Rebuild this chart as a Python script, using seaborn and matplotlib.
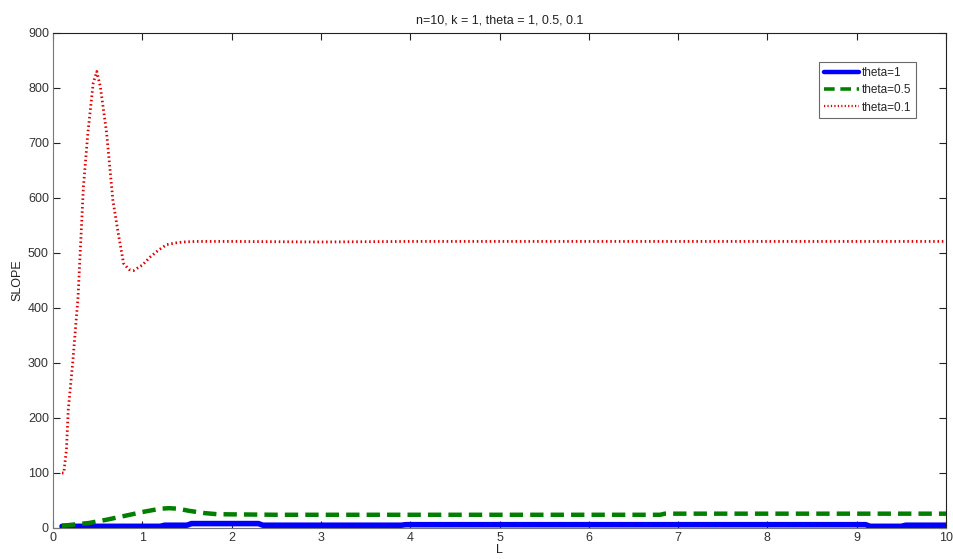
import matplotlib
matplotlib.use("Agg")
import matplotlib.pyplot as plt
import seaborn as sns
import pandas as pd

# --- data ---
x_red = [0.1, 0.12, 0.15, 0.17, 0.22, 0.28, 0.34, 0.39, 0.45, 0.49, 0.53, 0.6, 0.67,
         0.73, 0.79, 0.85, 0.9, 1.0, 1.09, 1.18, 1.27, 1.36, 1.46, 1.6, 2.0, 3.0, 4.0,
         5.0, 6.0, 7.0, 8.0, 9.0, 10.0]
y_red = [100, 100, 142, 214, 300, 420, 620, 718, 809, 830, 802, 718, 596,
         536, 481, 470, 468, 478, 493, 505, 515, 518, 520, 521, 521, 520, 521,
         521, 521, 521, 521, 521, 521]

x_green = [0.1, 0.4, 0.6, 0.86, 1.0, 1.2, 1.3, 1.4, 1.53, 1.7, 1.84, 2.5, 3.0, 4.0,
           5.0, 6.0, 6.8, 6.85, 8.0, 9.0, 10.0]
y_green = [4, 9, 15, 24, 29, 35, 36, 35, 31, 27, 25, 24, 24, 24,
           24, 24, 24, 26, 26, 26, 26]

x_blue = [0.1, 1.2, 1.25, 1.5, 1.55, 2.3, 2.35, 3.9, 3.95, 9.1, 9.15, 9.5, 9.55, 10.0]
y_blue = [3, 3, 5, 5, 8, 8, 5, 5, 6, 6, 3, 3, 5, 5]

labels = ["theta=1", "theta=0.5", "theta=0.1"]
title = "n=10, k = 1, theta = 1, 0.5, 0.1"
xticks = list(range(0, 11))
yticks = list(range(0, 901, 100))

sns.set_theme(style="white")
plt.rcParams["font.family"] = ["Liberation Sans", "DejaVu Sans"]

fig = plt.figure(figsize=(9.54, 5.59), dpi=100)
ax = fig.add_axes([0.0556, 0.0555, 0.9360, 0.8855])

df_b = pd.DataFrame({"x": x_blue, "y": y_blue})
df_g = pd.DataFrame({"x": x_green, "y": y_green})
df_r = pd.DataFrame({"x": x_red, "y": y_red})

sns.lineplot(data=df_b, x="x", y="y", ax=ax, color="#0000ff", lw=4, label=labels[0])
sns.lineplot(data=df_g, x="x", y="y", ax=ax, color="#007f00", lw=3.2, label=labels[1])
sns.lineplot(data=df_r, x="x", y="y", ax=ax, color="#e00000", lw=2, label=labels[2])
ax.lines[1].set_dashes([3, 1.6])
ax.lines[2].set_dashes([0.55, 1.0])

ax.set_xlim(0, 10)
ax.set_ylim(0, 900)
ax.set_xticks(xticks)
ax.set_yticks(yticks)
ax.tick_params(direction="in", length=5, width=0.8, colors="#222222", labelsize=9,
               top=True, right=True, bottom=True, left=True, pad=3)
for lab in ax.get_xticklabels() + ax.get_yticklabels():
    lab.set_color("#333333")
for s in ax.spines.values():
    s.set_color("#222222")
    s.set_linewidth(0.8)
    s.set_visible(True)
ax.spines["left"].set_color("#777777")
ax.spines["bottom"].set_color("#777777")

ax.set_xlabel("L", fontsize=9, labelpad=0, color="#222222")
ax.set_ylabel("SLOPE", fontsize=9, labelpad=3, color="#222222")
ax.set_title(title, fontsize=9, pad=7, color="#222222")

leg = ax.legend(loc="upper right", bbox_to_anchor=(0.966, 0.941), fontsize=8.5,
                frameon=True, fancybox=False, handlelength=3.0, handletextpad=0.2,
                borderpad=0.4, labelspacing=0.45, borderaxespad=0)
leg.get_frame().set_edgecolor("#444444")
leg.get_frame().set_linewidth(0.8)
for h in leg.get_lines():
    h.set_linewidth(h.get_linewidth() * 0.8)

fig.savefig("out.png", dpi=100)
